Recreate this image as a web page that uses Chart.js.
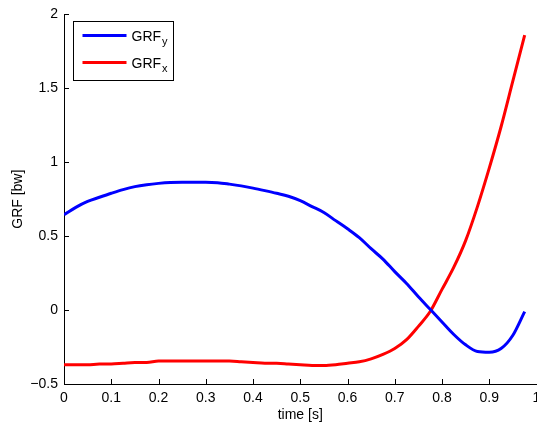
<!DOCTYPE html>
<html>
<head>
<meta charset="utf-8">
<script src="https://cdn.jsdelivr.net/npm/chart.js@4/dist/chart.umd.min.js"></script>
<style>
    html, body { margin: 0; padding: 0; background: #fff; overflow: hidden; }
    canvas { display: block; }
</style>
</head>
<body>
<canvas id="grfChart" width="560" height="426"></canvas>
<script>
// ---------------------------------------------------------------------------
// Data
// ---------------------------------------------------------------------------
const timeS = [
    0, 0.025, 0.05, 0.075, 0.1, 0.125, 0.15, 0.175, 0.2, 0.225,
    0.25, 0.275, 0.3, 0.325, 0.35, 0.375, 0.4, 0.425, 0.45, 0.475,
    0.5, 0.525, 0.55, 0.575, 0.6, 0.625, 0.65, 0.675, 0.7, 0.725,
    0.75, 0.775, 0.8, 0.825, 0.85, 0.875, 0.9, 0.925, 0.95, 0.975
];

const grfY = [
    0.645, 0.695, 0.735, 0.763, 0.79, 0.815, 0.835, 0.848, 0.857, 0.863,
    0.865, 0.865, 0.865, 0.862, 0.852, 0.84, 0.825, 0.808, 0.79, 0.77,
    0.74, 0.70, 0.66, 0.605, 0.55, 0.49, 0.415, 0.345, 0.26, 0.18,
    0.09, 0.005, -0.08, -0.165, -0.235, -0.28, -0.285, -0.26, -0.17, -0.01
];

const grfX = [
    -0.37, -0.37, -0.37, -0.365, -0.365, -0.36, -0.355, -0.355, -0.345, -0.345,
    -0.345, -0.345, -0.345, -0.345, -0.345, -0.35, -0.355, -0.36, -0.36, -0.365,
    -0.37, -0.375, -0.375, -0.37, -0.36, -0.35, -0.33, -0.30, -0.26, -0.20,
    -0.11, -0.01, 0.14, 0.29, 0.47, 0.70, 0.96, 1.24, 1.55, 1.86
];

const xTicks = [0, 0.1, 0.2, 0.3, 0.4, 0.5, 0.6, 0.7, 0.8, 0.9, 1];
const yTicks = [-0.5, 0, 0.5, 1, 1.5, 2];

// label text, subscript after '_'
const seriesLabels = ['GRF_y', 'GRF_x'];
const seriesColors = ['#0000ff', '#ff0000'];

const FONT = 'Liberation Sans, Arial, Helvetica, sans-serif';

// ---------------------------------------------------------------------------
// Helpers
// ---------------------------------------------------------------------------
function toPoints(xs, ys) {
    return xs.map(function (x, i) { return { x: x, y: ys[i] }; });
}

function fmtTick(v) {
    return String(v).replace('-', '\u2212');
}

// MATLAB style ticks pointing into the axes
const inwardTicks = {
    id: 'inwardTicks',
    afterDatasetsDraw: function (chart) {
        const ctx = chart.ctx;
        const area = chart.chartArea;
        const xs = chart.scales.x;
        const ys = chart.scales.y;
        ctx.save();
        ctx.strokeStyle = '#000';
        ctx.lineWidth = 1;
        ctx.beginPath();
        xs.ticks.forEach(function (t, i) {
            const px = Math.round(xs.getPixelForTick(i)) + 0.5;
            ctx.moveTo(px, area.bottom);
            ctx.lineTo(px, area.bottom - 5);
        });
        ys.ticks.forEach(function (t, i) {
            const py = Math.round(ys.getPixelForTick(i)) + 0.5;
            ctx.moveTo(area.left, py);
            ctx.lineTo(area.left + 5, py);
        });
        ctx.stroke();
        ctx.restore();
    }
};

// boxed legend with subscripted labels
const boxLegend = {
    id: 'boxLegend',
    afterDraw: function (chart) {
        const ctx = chart.ctx;
        const area = chart.chartArea;
        const bx = Math.round(area.left + 9) + 0.5;
        const by = Math.round(area.top + 7) + 0.5;
        const bw = 100, bh = 59;
        ctx.save();
        ctx.fillStyle = '#fff';
        ctx.fillRect(bx, by, bw, bh);
        ctx.strokeStyle = '#000';
        ctx.lineWidth = 1;
        ctx.strokeRect(bx, by, bw, bh);

        chart.data.datasets.forEach(function (ds, i) {
            const rowY = by + 14 + i * 27;
            ctx.strokeStyle = ds.borderColor;
            ctx.lineWidth = 3;
            ctx.beginPath();
            ctx.moveTo(bx + 9, rowY);
            ctx.lineTo(bx + 53, rowY);
            ctx.stroke();

            const parts = ds.label.split('_');
            ctx.fillStyle = '#000';
            ctx.textBaseline = 'alphabetic';
            ctx.font = '14px ' + FONT;
            const tx = bx + 58;
            const base = rowY + 5;
            ctx.fillText(parts[0], tx, base);
            if (parts[1]) {
                const w = ctx.measureText(parts[0]).width;
                ctx.font = '11px ' + FONT;
                ctx.fillText(parts[1], tx + w + 1, base + 4);
            }
        });
        ctx.restore();
    }
};

// ---------------------------------------------------------------------------
// Chart
// ---------------------------------------------------------------------------
new Chart(document.getElementById('grfChart'), {
    type: 'line',
    data: {
        datasets: [
            {
                label: seriesLabels[0],
                data: toPoints(timeS, grfY),
                borderColor: seriesColors[0],
                borderWidth: 3,
                pointRadius: 0,
                cubicInterpolationMode: 'monotone',
                fill: false
            },
            {
                label: seriesLabels[1],
                data: toPoints(timeS, grfX),
                borderColor: seriesColors[1],
                borderWidth: 3,
                pointRadius: 0,
                cubicInterpolationMode: 'monotone',
                fill: false
            }
        ]
    },
    options: {
        responsive: false,
        animation: false,
        layout: { padding: { left: 0, top: 13, right: 23.5, bottom: 0 } },
        plugins: {
            legend: { display: false },
            tooltip: { enabled: false }
        },
        scales: {
            x: {
                type: 'linear',
                min: 0,
                max: 1,
                afterBuildTicks: function (scale) {
                    scale.ticks = xTicks.map(function (v) { return { value: v }; });
                },
                afterFit: function (scale) { scale.height = 42; },
                grid: { display: false, drawTicks: false },
                border: { display: true, color: '#000', width: 1 },
                ticks: {
                    autoSkip: false,
                    maxRotation: 0,
                    padding: 6,
                    color: '#000',
                    font: { family: FONT, size: 14 },
                    callback: fmtTick
                },
                title: {
                    display: true,
                    text: 'time [s]',
                    color: '#000',
                    font: { family: FONT, size: 14 },
                    padding: { top: 0, bottom: 2 }
                }
            },
            y: {
                min: -0.5,
                max: 2,
                afterBuildTicks: function (scale) {
                    scale.ticks = yTicks.map(function (v) { return { value: v }; });
                },
                afterFit: function (scale) { scale.width = 64; },
                grid: { display: false, drawTicks: false },
                border: { display: true, color: '#000', width: 1 },
                ticks: {
                    padding: 6,
                    color: '#000',
                    font: { family: FONT, size: 14 },
                    callback: fmtTick
                },
                title: {
                    display: true,
                    text: 'GRF [bw]',
                    color: '#000',
                    font: { family: FONT, size: 14 },
                    padding: { top: 10, bottom: 0 }
                }
            }
        }
    },
    plugins: [inwardTicks, boxLegend]
});
</script>
</body>
</html>
